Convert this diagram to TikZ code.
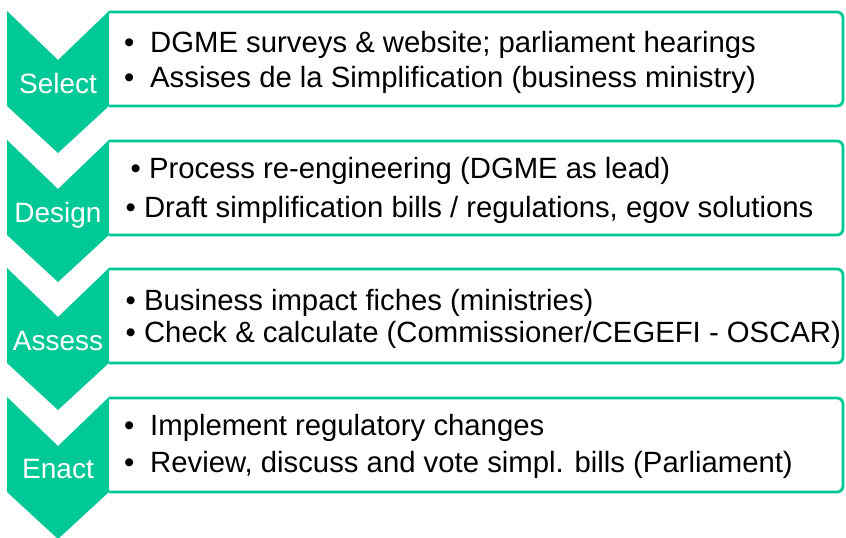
\documentclass[tikz,border=0pt]{standalone}
\usepackage{fontspec}
\setmainfont{Liberation Sans}
\definecolor{stepgreen}{RGB}{0,200,150}
\begin{document}
\begin{tikzpicture}[x=1pt,y=-1pt]
		\tikzstyle{chevron}=[fill=stepgreen,draw=none]
		\tikzstyle{stage}=[text=white,font=\fontsize{28}{34}\selectfont,anchor=base,inner sep=0pt]
		\tikzstyle{frame}=[draw=stepgreen,line width=2.8pt,rounded corners=6pt]
		\tikzstyle{item}=[font=\fontsize{29.3}{35}\selectfont,anchor=base west,inner sep=0pt]

		\useasboundingbox (0,0) rectangle (846,538);

		\begin{scope}
			\draw[frame] (109,12) -- (843,12) -- (843,106) -- (109,106);
			\draw[frame] (109,141) -- (843,141) -- (843,235) -- (109,235);
			\draw[frame] (109,269) -- (843,269) -- (843,363) -- (109,363);
			\draw[frame] (109,398) -- (843,398) -- (843,492) -- (109,492);

			\fill[chevron] (7,11) -- (58,60) -- (109,11) -- (109,106) -- (58,153) -- (7,106) -- cycle;
			\fill[chevron] (7,140) -- (58,189) -- (109,140) -- (109,235) -- (58,282) -- (7,235) -- cycle;
			\fill[chevron] (7,268) -- (58,317) -- (109,268) -- (109,363) -- (58,410) -- (7,363) -- cycle;
			\fill[chevron] (7,397) -- (58,446) -- (109,397) -- (109,492) -- (58,539) -- (7,492) -- cycle;

			\node [stage] (select) at (58,93) {Select};
			\node [stage] (design) at (58,222) {Design};
			\node [stage] (assess) at (58,350) {Assess};
			\node [stage] (enact) at (58,478) {Enact};

			\node [item] (b1a) at (124,52) {\textbullet};
			\node [item] (s1a) at (150,52) {DGME surveys \& website; parliament hearings};
			\node [item] (b1b) at (124,87) {\textbullet};
			\node [item] (s1b) at (150,87) {Assises de la Simplification (business ministry)};

			\node [item] (s2a) at (130.5,178) {\textbullet\ Process re-engineering (DGME as lead)};
			\node [item] (s2b) at (125.5,217) {\textbullet\ Draft simplification bills / regulations, egov solutions};

			\node [item] (s3a) at (125.5,310) {\textbullet\ Business impact fiches (ministries)};
			\node [item] (s3b) at (125.5,342) {\textbullet\ Check \& calculate (Commissioner/CEGEFI - OSCAR)};

			\node [item] (b4a) at (124,435) {\textbullet};
			\node [item] (s4a) at (150,435) {Implement regulatory changes};
			\node [item] (b4b) at (124,472) {\textbullet};
			\node [item] (s4b) at (150,472) {Review, discuss and vote simpl. bills (Parliament)};
		\end{scope}
\end{tikzpicture}
\end{document}
